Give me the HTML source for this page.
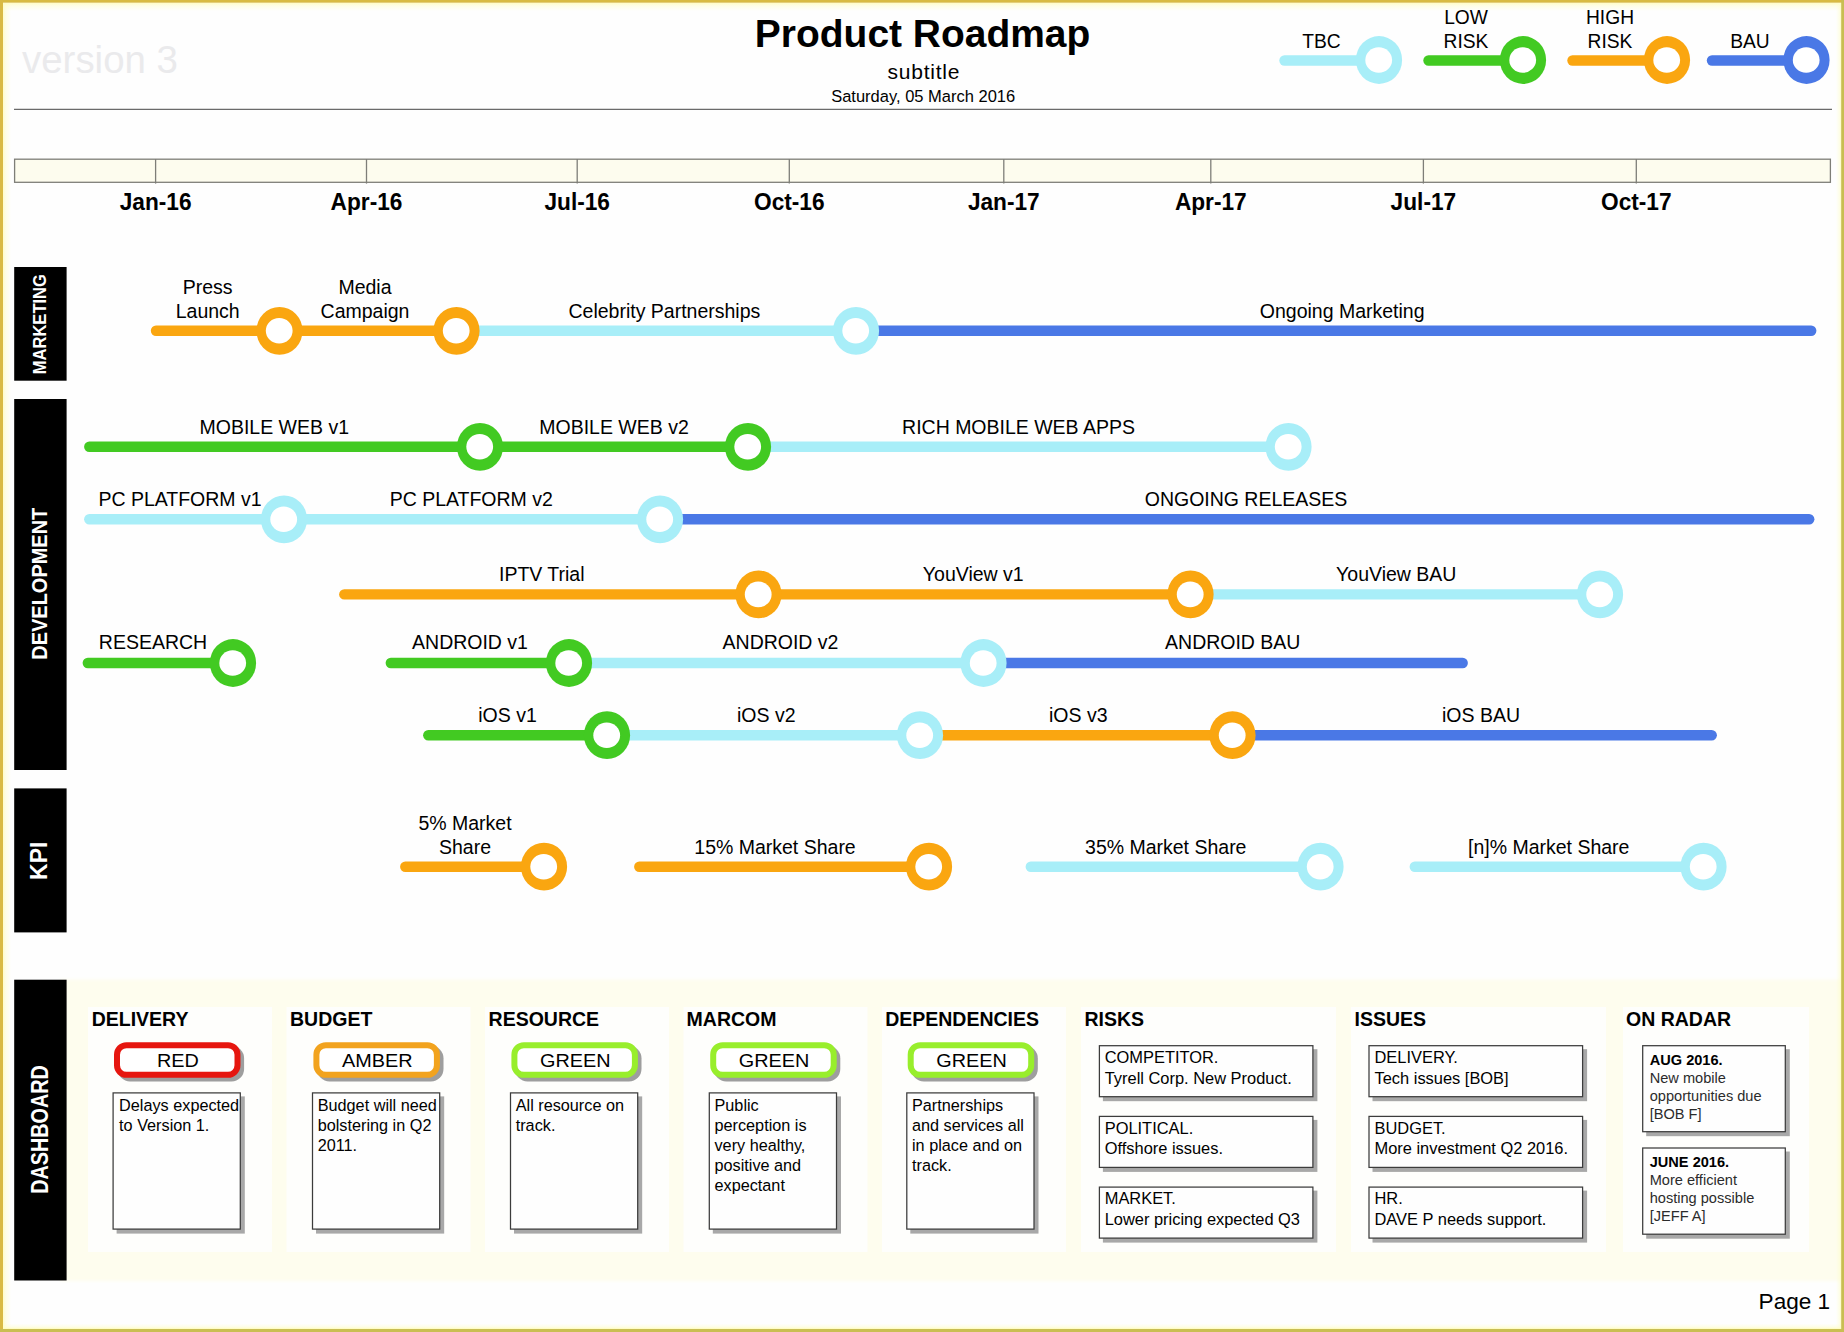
<!DOCTYPE html>
<html lang="en">
<head>
<meta charset="utf-8">
<title>Product Roadmap</title>
<style>
html,body{margin:0;padding:0;background:#fff;}
body{width:1844px;height:1332px;overflow:hidden;}
svg{display:block;font-family:"Liberation Sans",Arial,Helvetica,sans-serif;}

</style>
</head>
<body>
<svg width="1844" height="1332" viewBox="0 0 1844 1332">
<defs>
<linearGradient id="gt" x1="0" y1="0" x2="0" y2="1"><stop offset="0" stop-color="#FFFDC8"/><stop offset="0.35" stop-color="#FFFDC8" stop-opacity="0.45"/><stop offset="1" stop-color="#FFFDC8" stop-opacity="0"/></linearGradient>
<linearGradient id="gl" x1="0" y1="0" x2="1" y2="0"><stop offset="0" stop-color="#FFFDC8"/><stop offset="0.35" stop-color="#FFFDC8" stop-opacity="0.45"/><stop offset="1" stop-color="#FFFDC8" stop-opacity="0"/></linearGradient>
<filter id="sh" x="-10%" y="-10%" width="130%" height="140%"><feGaussianBlur stdDeviation="0.7"/></filter>
<filter id="soft" x="-2%" y="-5%" width="104%" height="110%"><feGaussianBlur stdDeviation="1.6"/></filter>
<linearGradient id="gr" x1="1" y1="0" x2="0" y2="0"><stop offset="0" stop-color="#FFFCB8"/><stop offset="0.35" stop-color="#FFFDC8" stop-opacity="0.45"/><stop offset="1" stop-color="#FFFDC8" stop-opacity="0"/></linearGradient>
<linearGradient id="gb" x1="0" y1="1" x2="0" y2="0"><stop offset="0" stop-color="#FFFCB8"/><stop offset="0.35" stop-color="#FFFDC8" stop-opacity="0.45"/><stop offset="1" stop-color="#FFFDC8" stop-opacity="0"/></linearGradient>
</defs>
<rect x="0" y="0" width="1844" height="1332" fill="#FEFEFE"/>

<rect x="60" y="979.5" width="1786" height="301.5" fill="#FEFDEE" filter="url(#soft)"/>
<rect x="88" y="1007" width="184" height="245" fill="#FEFEFC"/>
<rect x="286.5" y="1007" width="184.0" height="245" fill="#FEFEFC"/>
<rect x="485" y="1007" width="184" height="245" fill="#FEFEFC"/>
<rect x="683.5" y="1007" width="184.0" height="245" fill="#FEFEFC"/>
<rect x="882" y="1007" width="184" height="245" fill="#FEFEFC"/>
<rect x="1081" y="1007" width="255" height="245" fill="#FEFEFC"/>
<rect x="1351" y="1007" width="255" height="245" fill="#FEFEFC"/>
<rect x="1623" y="1007" width="186" height="245" fill="#FEFEFC"/>
<rect x="3" y="3" width="1838" height="8" fill="url(#gt)"/>
<rect x="3" y="3" width="8" height="1326" fill="url(#gl)"/>
<rect x="1836" y="3" width="5.5" height="1326" fill="url(#gr)"/>
<rect x="3" y="1323.5" width="1838" height="5.5" fill="url(#gb)"/>
<rect x="0" y="0" width="1844" height="2.7" fill="#D8BA42"/>
<rect x="0" y="0" width="3" height="1332" fill="#D9BA44"/>
<rect x="1841.2" y="0" width="2.8" height="1332" fill="#C8BE52"/>
<rect x="0" y="1329" width="1844" height="3" fill="#C9BE52"/>
<text x="22" y="72.5" font-size="38" fill="#EAEAEC" textLength="156" lengthAdjust="spacingAndGlyphs">version 3</text>
<text x="922.6" y="47.4" font-size="38.5" text-anchor="middle" font-weight="bold" textLength="335.5" lengthAdjust="spacingAndGlyphs">Product Roadmap</text>
<text x="923.5" y="79.3" font-size="21" text-anchor="middle" textLength="71.8" lengthAdjust="spacing">subtitle</text>
<text x="923.2" y="101.8" font-size="16.3" text-anchor="middle" textLength="184" lengthAdjust="spacingAndGlyphs">Saturday, 05 March 2016</text>
<line x1="14" y1="109.4" x2="1832" y2="109.4" stroke="#6A6A6A" stroke-width="1.3"/>
<line x1="1284.5" y1="60.5" x2="1379" y2="60.5" stroke="#A8EEF8" stroke-width="10.4" stroke-linecap="round"/>
<ellipse cx="1379" cy="60.0" rx="23.1" ry="23.9" fill="#A8EEF8"/><ellipse cx="1378.7" cy="60.0" rx="13.4" ry="12.8" fill="#fff"/>
<line x1="1428.5" y1="60.5" x2="1523" y2="60.5" stroke="#42CA22" stroke-width="10.4" stroke-linecap="round"/>
<ellipse cx="1523" cy="60.0" rx="23.1" ry="23.9" fill="#42CA22"/><ellipse cx="1522.7" cy="60.0" rx="13.4" ry="12.8" fill="#fff"/>
<line x1="1572.5" y1="60.5" x2="1667" y2="60.5" stroke="#FAA610" stroke-width="10.4" stroke-linecap="round"/>
<ellipse cx="1667" cy="60.0" rx="23.1" ry="23.9" fill="#FAA610"/><ellipse cx="1666.7" cy="60.0" rx="13.4" ry="12.8" fill="#fff"/>
<line x1="1712" y1="60.5" x2="1806.5" y2="60.5" stroke="#4A78E6" stroke-width="10.4" stroke-linecap="round"/>
<ellipse cx="1806.5" cy="60.0" rx="23.1" ry="23.9" fill="#4A78E6"/><ellipse cx="1806.2" cy="60.0" rx="13.4" ry="12.8" fill="#fff"/>
<text transform="translate(1321.5 47.5) scale(0.965 1)" font-size="19.9" text-anchor="middle">TBC</text>
<text transform="translate(1466 23.5) scale(0.965 1)" font-size="19.9" text-anchor="middle">LOW</text>
<text transform="translate(1466 47.5) scale(0.965 1)" font-size="19.9" text-anchor="middle">RISK</text>
<text transform="translate(1610 23.5) scale(0.965 1)" font-size="19.9" text-anchor="middle">HIGH</text>
<text transform="translate(1610 47.5) scale(0.965 1)" font-size="19.9" text-anchor="middle">RISK</text>
<text transform="translate(1750 47.5) scale(0.965 1)" font-size="19.9" text-anchor="middle">BAU</text>
<rect x="14.6" y="159.2" width="1815.8" height="23.1" fill="#FDFCEE" stroke="#7E7E78" stroke-width="1.3"/>
<line x1="155.6" y1="159" x2="155.6" y2="183.6" stroke="#7E7E78" stroke-width="1.3"/>
<text transform="translate(155.6 210) scale(0.93 1)" font-size="24.4" text-anchor="middle" font-weight="bold">Jan-16</text>
<line x1="366.5" y1="159" x2="366.5" y2="183.6" stroke="#7E7E78" stroke-width="1.3"/>
<text transform="translate(366.5 210) scale(0.93 1)" font-size="24.4" text-anchor="middle" font-weight="bold">Apr-16</text>
<line x1="577.2" y1="159" x2="577.2" y2="183.6" stroke="#7E7E78" stroke-width="1.3"/>
<text transform="translate(577.2 210) scale(0.93 1)" font-size="24.4" text-anchor="middle" font-weight="bold">Jul-16</text>
<line x1="789.3" y1="159" x2="789.3" y2="183.6" stroke="#7E7E78" stroke-width="1.3"/>
<text transform="translate(789.3 210) scale(0.93 1)" font-size="24.4" text-anchor="middle" font-weight="bold">Oct-16</text>
<line x1="1003.8" y1="159" x2="1003.8" y2="183.6" stroke="#7E7E78" stroke-width="1.3"/>
<text transform="translate(1003.8 210) scale(0.93 1)" font-size="24.4" text-anchor="middle" font-weight="bold">Jan-17</text>
<line x1="1210.8" y1="159" x2="1210.8" y2="183.6" stroke="#7E7E78" stroke-width="1.3"/>
<text transform="translate(1210.8 210) scale(0.93 1)" font-size="24.4" text-anchor="middle" font-weight="bold">Apr-17</text>
<line x1="1423.4" y1="159" x2="1423.4" y2="183.6" stroke="#7E7E78" stroke-width="1.3"/>
<text transform="translate(1423.4 210) scale(0.93 1)" font-size="24.4" text-anchor="middle" font-weight="bold">Jul-17</text>
<line x1="1636.3" y1="159" x2="1636.3" y2="183.6" stroke="#7E7E78" stroke-width="1.3"/>
<text transform="translate(1636.3 210) scale(0.93 1)" font-size="24.4" text-anchor="middle" font-weight="bold">Oct-17</text>
<rect x="14.2" y="267" width="52.4" height="113.69999999999999" fill="#000"/>
<text transform="translate(46.3 324.2) rotate(-90)" font-size="18.6" font-weight="bold" text-anchor="middle" textLength="100.3" lengthAdjust="spacingAndGlyphs" fill="#fff">MARKETING</text>
<rect x="14.2" y="399" width="52.4" height="371" fill="#000"/>
<text transform="translate(47.0 583.7) rotate(-90)" font-size="22" font-weight="bold" text-anchor="middle" textLength="152" lengthAdjust="spacingAndGlyphs" fill="#fff">DEVELOPMENT</text>
<rect x="14.2" y="788.4" width="52.4" height="144.0" fill="#000"/>
<text transform="translate(47.4 860.8) rotate(-90)" font-size="23" font-weight="bold" text-anchor="middle" textLength="38.2" lengthAdjust="spacingAndGlyphs" fill="#fff">KPI</text>
<rect x="14.2" y="979.7" width="52.4" height="300.79999999999995" fill="#000"/>
<text transform="translate(47.5 1129.5) rotate(-90)" font-size="23" font-weight="bold" text-anchor="middle" textLength="128.6" lengthAdjust="spacingAndGlyphs" fill="#fff">DASHBOARD</text>
<line x1="156" y1="330.8" x2="279.5" y2="330.8" stroke="#FAA610" stroke-width="10.4" stroke-linecap="round"/>
<line x1="279.5" y1="330.8" x2="456.5" y2="330.8" stroke="#FAA610" stroke-width="10.4" stroke-linecap="round"/>
<line x1="456.5" y1="330.8" x2="856" y2="330.8" stroke="#A8EEF8" stroke-width="10.4" stroke-linecap="round"/>
<line x1="856" y1="330.8" x2="1811.2" y2="330.8" stroke="#4A78E6" stroke-width="10.4" stroke-linecap="round"/>
<ellipse cx="279.5" cy="330.8" rx="23.1" ry="23.9" fill="#FAA610"/><ellipse cx="279.2" cy="330.8" rx="13.4" ry="12.8" fill="#fff"/>
<ellipse cx="456.5" cy="330.8" rx="23.1" ry="23.9" fill="#FAA610"/><ellipse cx="456.2" cy="330.8" rx="13.4" ry="12.8" fill="#fff"/>
<ellipse cx="856" cy="330.8" rx="23.1" ry="23.9" fill="#A8EEF8"/><ellipse cx="855.7" cy="330.8" rx="13.4" ry="12.8" fill="#fff"/>
<line x1="89.3" y1="446.8" x2="480" y2="446.8" stroke="#42CA22" stroke-width="10.4" stroke-linecap="round"/>
<line x1="480" y1="446.8" x2="748" y2="446.8" stroke="#42CA22" stroke-width="10.4" stroke-linecap="round"/>
<line x1="748" y1="446.8" x2="1288.5" y2="446.8" stroke="#A8EEF8" stroke-width="10.4" stroke-linecap="round"/>
<ellipse cx="480" cy="446.8" rx="23.1" ry="23.9" fill="#42CA22"/><ellipse cx="479.7" cy="446.8" rx="13.4" ry="12.8" fill="#fff"/>
<ellipse cx="748" cy="446.8" rx="23.1" ry="23.9" fill="#42CA22"/><ellipse cx="747.7" cy="446.8" rx="13.4" ry="12.8" fill="#fff"/>
<ellipse cx="1288.5" cy="446.8" rx="23.1" ry="23.9" fill="#A8EEF8"/><ellipse cx="1288.2" cy="446.8" rx="13.4" ry="12.8" fill="#fff"/>
<line x1="89.3" y1="519.3" x2="284" y2="519.3" stroke="#A8EEF8" stroke-width="10.4" stroke-linecap="round"/>
<line x1="284" y1="519.3" x2="660" y2="519.3" stroke="#A8EEF8" stroke-width="10.4" stroke-linecap="round"/>
<line x1="660" y1="519.3" x2="1809.2" y2="519.3" stroke="#4A78E6" stroke-width="10.4" stroke-linecap="round"/>
<ellipse cx="284" cy="519.3" rx="23.1" ry="23.9" fill="#A8EEF8"/><ellipse cx="283.7" cy="519.3" rx="13.4" ry="12.8" fill="#fff"/>
<ellipse cx="660" cy="519.3" rx="23.1" ry="23.9" fill="#A8EEF8"/><ellipse cx="659.7" cy="519.3" rx="13.4" ry="12.8" fill="#fff"/>
<line x1="344.3" y1="594.4" x2="758.5" y2="594.4" stroke="#FAA610" stroke-width="10.4" stroke-linecap="round"/>
<line x1="758.5" y1="594.4" x2="1190.5" y2="594.4" stroke="#FAA610" stroke-width="10.4" stroke-linecap="round"/>
<line x1="1190.5" y1="594.4" x2="1600" y2="594.4" stroke="#A8EEF8" stroke-width="10.4" stroke-linecap="round"/>
<ellipse cx="758.5" cy="594.4" rx="23.1" ry="23.9" fill="#FAA610"/><ellipse cx="758.2" cy="594.4" rx="13.4" ry="12.8" fill="#fff"/>
<ellipse cx="1190.5" cy="594.4" rx="23.1" ry="23.9" fill="#FAA610"/><ellipse cx="1190.2" cy="594.4" rx="13.4" ry="12.8" fill="#fff"/>
<ellipse cx="1600" cy="594.4" rx="23.1" ry="23.9" fill="#A8EEF8"/><ellipse cx="1599.7" cy="594.4" rx="13.4" ry="12.8" fill="#fff"/>
<line x1="87.8" y1="663.0" x2="233" y2="663.0" stroke="#42CA22" stroke-width="10.4" stroke-linecap="round"/>
<line x1="390.8" y1="663.0" x2="569" y2="663.0" stroke="#42CA22" stroke-width="10.4" stroke-linecap="round"/>
<line x1="569" y1="663.0" x2="983.5" y2="663.0" stroke="#A8EEF8" stroke-width="10.4" stroke-linecap="round"/>
<line x1="983.5" y1="663.0" x2="1462.7" y2="663.0" stroke="#4A78E6" stroke-width="10.4" stroke-linecap="round"/>
<ellipse cx="233" cy="663.0" rx="23.1" ry="23.9" fill="#42CA22"/><ellipse cx="232.7" cy="663.0" rx="13.4" ry="12.8" fill="#fff"/>
<ellipse cx="569" cy="663.0" rx="23.1" ry="23.9" fill="#42CA22"/><ellipse cx="568.7" cy="663.0" rx="13.4" ry="12.8" fill="#fff"/>
<ellipse cx="983.5" cy="663.0" rx="23.1" ry="23.9" fill="#A8EEF8"/><ellipse cx="983.2" cy="663.0" rx="13.4" ry="12.8" fill="#fff"/>
<line x1="428.3" y1="735.2" x2="607" y2="735.2" stroke="#42CA22" stroke-width="10.4" stroke-linecap="round"/>
<line x1="607" y1="735.2" x2="920" y2="735.2" stroke="#A8EEF8" stroke-width="10.4" stroke-linecap="round"/>
<line x1="920" y1="735.2" x2="1232.5" y2="735.2" stroke="#FAA610" stroke-width="10.4" stroke-linecap="round"/>
<line x1="1232.5" y1="735.2" x2="1711.7" y2="735.2" stroke="#4A78E6" stroke-width="10.4" stroke-linecap="round"/>
<ellipse cx="607" cy="735.2" rx="23.1" ry="23.9" fill="#42CA22"/><ellipse cx="606.7" cy="735.2" rx="13.4" ry="12.8" fill="#fff"/>
<ellipse cx="920" cy="735.2" rx="23.1" ry="23.9" fill="#A8EEF8"/><ellipse cx="919.7" cy="735.2" rx="13.4" ry="12.8" fill="#fff"/>
<ellipse cx="1232.5" cy="735.2" rx="23.1" ry="23.9" fill="#FAA610"/><ellipse cx="1232.2" cy="735.2" rx="13.4" ry="12.8" fill="#fff"/>
<line x1="405.3" y1="866.7" x2="544" y2="866.7" stroke="#FAA610" stroke-width="10.4" stroke-linecap="round"/>
<line x1="639.3" y1="866.7" x2="929" y2="866.7" stroke="#FAA610" stroke-width="10.4" stroke-linecap="round"/>
<line x1="1030.8" y1="866.7" x2="1320.5" y2="866.7" stroke="#A8EEF8" stroke-width="10.4" stroke-linecap="round"/>
<line x1="1414.8" y1="866.7" x2="1703.5" y2="866.7" stroke="#A8EEF8" stroke-width="10.4" stroke-linecap="round"/>
<ellipse cx="544" cy="866.7" rx="23.1" ry="23.9" fill="#FAA610"/><ellipse cx="543.7" cy="866.7" rx="13.4" ry="12.8" fill="#fff"/>
<ellipse cx="929" cy="866.7" rx="23.1" ry="23.9" fill="#FAA610"/><ellipse cx="928.7" cy="866.7" rx="13.4" ry="12.8" fill="#fff"/>
<ellipse cx="1320.5" cy="866.7" rx="23.1" ry="23.9" fill="#A8EEF8"/><ellipse cx="1320.2" cy="866.7" rx="13.4" ry="12.8" fill="#fff"/>
<ellipse cx="1703.5" cy="866.7" rx="23.1" ry="23.9" fill="#A8EEF8"/><ellipse cx="1703.2" cy="866.7" rx="13.4" ry="12.8" fill="#fff"/>
<text transform="translate(207.7 293.5) scale(0.98 1)" font-size="19.9" text-anchor="middle">Press</text>
<text transform="translate(207.7 317.5) scale(0.98 1)" font-size="19.9" text-anchor="middle">Launch</text>
<text transform="translate(365 293.5) scale(0.98 1)" font-size="19.9" text-anchor="middle">Media</text>
<text transform="translate(365 317.5) scale(0.98 1)" font-size="19.9" text-anchor="middle">Campaign</text>
<text transform="translate(664.4 317.5) scale(0.98 1)" font-size="19.9" text-anchor="middle">Celebrity Partnerships</text>
<text transform="translate(1342.2 317.5) scale(0.98 1)" font-size="19.9" text-anchor="middle">Ongoing Marketing</text>
<text transform="translate(274.25 433.5) scale(0.98 1)" font-size="19.9" text-anchor="middle">MOBILE WEB v1</text>
<text transform="translate(614 433.5) scale(0.98 1)" font-size="19.9" text-anchor="middle">MOBILE WEB v2</text>
<text transform="translate(1018.5 433.5) scale(0.98 1)" font-size="19.9" text-anchor="middle">RICH MOBILE WEB APPS</text>
<text transform="translate(180 505.7) scale(0.98 1)" font-size="19.9" text-anchor="middle">PC PLATFORM v1</text>
<text transform="translate(471.25 505.7) scale(0.98 1)" font-size="19.9" text-anchor="middle">PC PLATFORM v2</text>
<text transform="translate(1246 505.7) scale(0.98 1)" font-size="19.9" text-anchor="middle">ONGOING RELEASES</text>
<text transform="translate(541.75 580.6) scale(0.98 1)" font-size="19.9" text-anchor="middle">IPTV Trial</text>
<text transform="translate(973.25 580.6) scale(0.98 1)" font-size="19.9" text-anchor="middle">YouView v1</text>
<text transform="translate(1396.25 580.6) scale(0.98 1)" font-size="19.9" text-anchor="middle">YouView BAU</text>
<text transform="translate(153 649.4) scale(0.98 1)" font-size="19.9" text-anchor="middle">RESEARCH</text>
<text transform="translate(470 649.4) scale(0.98 1)" font-size="19.9" text-anchor="middle">ANDROID v1</text>
<text transform="translate(780.5 649.4) scale(0.98 1)" font-size="19.9" text-anchor="middle">ANDROID v2</text>
<text transform="translate(1232.75 649.4) scale(0.98 1)" font-size="19.9" text-anchor="middle">ANDROID BAU</text>
<text transform="translate(507.5 721.5) scale(0.98 1)" font-size="19.9" text-anchor="middle">iOS v1</text>
<text transform="translate(766.25 721.5) scale(0.98 1)" font-size="19.9" text-anchor="middle">iOS v2</text>
<text transform="translate(1078.25 721.5) scale(0.98 1)" font-size="19.9" text-anchor="middle">iOS v3</text>
<text transform="translate(1481 721.5) scale(0.98 1)" font-size="19.9" text-anchor="middle">iOS BAU</text>
<text transform="translate(465 829.9) scale(0.98 1)" font-size="19.9" text-anchor="middle">5% Market</text>
<text transform="translate(465 853.9) scale(0.98 1)" font-size="19.9" text-anchor="middle">Share</text>
<text transform="translate(775 853.9) scale(0.98 1)" font-size="19.9" text-anchor="middle">15% Market Share</text>
<text transform="translate(1165.75 853.9) scale(0.98 1)" font-size="19.9" text-anchor="middle">35% Market Share</text>
<text transform="translate(1548.75 853.9) scale(0.98 1)" font-size="19.9" text-anchor="middle">[n]% Market Share</text>
<text x="91.7" y="1026.4" font-size="19.5" font-weight="bold">DELIVERY</text>
<text x="290" y="1026.4" font-size="19.5" font-weight="bold">BUDGET</text>
<text x="488.6" y="1026.4" font-size="19.5" font-weight="bold">RESOURCE</text>
<text x="686.6" y="1026.4" font-size="19.5" font-weight="bold">MARCOM</text>
<text x="885.2" y="1026.4" font-size="19.5" font-weight="bold">DEPENDENCIES</text>
<text x="1084.4" y="1026.4" font-size="19.5" font-weight="bold">RISKS</text>
<text x="1354.5" y="1026.4" font-size="19.5" font-weight="bold">ISSUES</text>
<text x="1626" y="1026.4" font-size="19.5" font-weight="bold">ON RADAR</text>
<rect x="117.6" y="1045.8" width="126.5" height="35.6" rx="12.5" fill="#9E9E9E" filter="url(#sh)"/>
<rect x="117.0" y="1045.2" width="120.5" height="29.6" rx="9.5" fill="#fff" stroke="#E6160F" stroke-width="6"/>
<text transform="translate(177.85 1066.5) scale(1.035 1)" font-size="19.2" text-anchor="middle">RED</text>
<rect x="116.6" y="1096.4" width="128.2" height="137.2" fill="#A8A8A8" filter="url(#sh)"/>
<rect x="113.1" y="1092.9" width="127.19999999999999" height="136.2" fill="#FEFEFE" stroke="#3C3C3C" stroke-width="1.25"/>
<text transform="translate(119.1 1111.0) scale(0.967 1)" font-size="16.8">Delays expected</text>
<text transform="translate(119.1 1131.05) scale(0.967 1)" font-size="16.8">to Version 1.</text>
<rect x="317.0" y="1045.8" width="126.5" height="35.6" rx="12.5" fill="#9E9E9E" filter="url(#sh)"/>
<rect x="316.4" y="1045.2" width="120.5" height="29.6" rx="9.5" fill="#fff" stroke="#F2A31E" stroke-width="6"/>
<text transform="translate(377.25 1066.5) scale(1.035 1)" font-size="19.2" text-anchor="middle">AMBER</text>
<rect x="316.0" y="1096.4" width="128.2" height="137.2" fill="#A8A8A8" filter="url(#sh)"/>
<rect x="312.5" y="1092.9" width="127.19999999999999" height="136.2" fill="#FEFEFE" stroke="#3C3C3C" stroke-width="1.25"/>
<text transform="translate(317.7 1111.0) scale(0.967 1)" font-size="16.8">Budget will need</text>
<text transform="translate(317.7 1131.05) scale(0.967 1)" font-size="16.8">bolstering in Q2</text>
<text transform="translate(317.7 1151.1) scale(0.967 1)" font-size="16.8">2011.</text>
<rect x="515.0" y="1045.8" width="126.5" height="35.6" rx="12.5" fill="#9E9E9E" filter="url(#sh)"/>
<rect x="514.4" y="1045.2" width="120.5" height="29.6" rx="9.5" fill="#fff" stroke="#98EE2C" stroke-width="6"/>
<text transform="translate(575.25 1066.5) scale(1.035 1)" font-size="19.2" text-anchor="middle">GREEN</text>
<rect x="514.0" y="1096.4" width="128.2" height="137.2" fill="#A8A8A8" filter="url(#sh)"/>
<rect x="510.5" y="1092.9" width="127.19999999999999" height="136.2" fill="#FEFEFE" stroke="#3C3C3C" stroke-width="1.25"/>
<text transform="translate(515.7 1111.0) scale(0.967 1)" font-size="16.8">All resource on</text>
<text transform="translate(515.7 1131.05) scale(0.967 1)" font-size="16.8">track.</text>
<rect x="713.8" y="1045.8" width="126.5" height="35.6" rx="12.5" fill="#9E9E9E" filter="url(#sh)"/>
<rect x="713.1999999999999" y="1045.2" width="120.5" height="29.6" rx="9.5" fill="#fff" stroke="#98EE2C" stroke-width="6"/>
<text transform="translate(774.05 1066.5) scale(1.035 1)" font-size="19.2" text-anchor="middle">GREEN</text>
<rect x="712.8" y="1096.4" width="128.2" height="137.2" fill="#A8A8A8" filter="url(#sh)"/>
<rect x="709.3" y="1092.9" width="127.19999999999999" height="136.2" fill="#FEFEFE" stroke="#3C3C3C" stroke-width="1.25"/>
<text transform="translate(714.5 1111.0) scale(0.967 1)" font-size="16.8">Public</text>
<text transform="translate(714.5 1131.05) scale(0.967 1)" font-size="16.8">perception is</text>
<text transform="translate(714.5 1151.1) scale(0.967 1)" font-size="16.8">very healthy,</text>
<text transform="translate(714.5 1171.15) scale(0.967 1)" font-size="16.8">positive and</text>
<text transform="translate(714.5 1191.2) scale(0.967 1)" font-size="16.8">expectant</text>
<rect x="911.3" y="1045.8" width="126.5" height="35.6" rx="12.5" fill="#9E9E9E" filter="url(#sh)"/>
<rect x="910.6999999999999" y="1045.2" width="120.5" height="29.6" rx="9.5" fill="#fff" stroke="#98EE2C" stroke-width="6"/>
<text transform="translate(971.55 1066.5) scale(1.035 1)" font-size="19.2" text-anchor="middle">GREEN</text>
<rect x="910.3" y="1096.4" width="128.2" height="137.2" fill="#A8A8A8" filter="url(#sh)"/>
<rect x="906.8" y="1092.9" width="127.19999999999999" height="136.2" fill="#FEFEFE" stroke="#3C3C3C" stroke-width="1.25"/>
<text transform="translate(912.0 1111.0) scale(0.967 1)" font-size="16.8">Partnerships</text>
<text transform="translate(912.0 1131.05) scale(0.967 1)" font-size="16.8">and services all</text>
<text transform="translate(912.0 1151.1) scale(0.967 1)" font-size="16.8">in place and on</text>
<text transform="translate(912.0 1171.15) scale(0.967 1)" font-size="16.8">track.</text>
<rect x="1102.9" y="1049.2" width="214.5" height="52" fill="#A8A8A8" filter="url(#sh)"/>
<rect x="1099.4" y="1045.7" width="213.5" height="51" fill="#FEFEFE" stroke="#3C3C3C" stroke-width="1.25"/>
<text transform="translate(1104.7 1062.9) scale(1.027 1)" font-size="16.0">COMPETITOR.</text>
<text transform="translate(1104.7 1083.5) scale(1.027 1)" font-size="16.0">Tyrell Corp. New Product.</text>
<rect x="1372.5" y="1049.2" width="214.6" height="52" fill="#A8A8A8" filter="url(#sh)"/>
<rect x="1369.0" y="1045.7" width="213.6" height="51" fill="#FEFEFE" stroke="#3C3C3C" stroke-width="1.25"/>
<text transform="translate(1374.5 1062.9) scale(1.027 1)" font-size="16.0">DELIVERY.</text>
<text transform="translate(1374.5 1083.5) scale(1.027 1)" font-size="16.0">Tech issues [BOB]</text>
<rect x="1102.9" y="1119.9" width="214.5" height="52" fill="#A8A8A8" filter="url(#sh)"/>
<rect x="1099.4" y="1116.4" width="213.5" height="51" fill="#FEFEFE" stroke="#3C3C3C" stroke-width="1.25"/>
<text transform="translate(1104.7 1133.6) scale(1.027 1)" font-size="16.0">POLITICAL.</text>
<text transform="translate(1104.7 1154.2) scale(1.027 1)" font-size="16.0">Offshore issues.</text>
<rect x="1372.5" y="1119.9" width="214.6" height="52" fill="#A8A8A8" filter="url(#sh)"/>
<rect x="1369.0" y="1116.4" width="213.6" height="51" fill="#FEFEFE" stroke="#3C3C3C" stroke-width="1.25"/>
<text transform="translate(1374.5 1133.6) scale(1.027 1)" font-size="16.0">BUDGET.</text>
<text transform="translate(1374.5 1154.2) scale(1.027 1)" font-size="16.0">More investment Q2 2016.</text>
<rect x="1102.9" y="1190.6000000000001" width="214.5" height="52" fill="#A8A8A8" filter="url(#sh)"/>
<rect x="1099.4" y="1187.1000000000001" width="213.5" height="51" fill="#FEFEFE" stroke="#3C3C3C" stroke-width="1.25"/>
<text transform="translate(1104.7 1204.3) scale(1.027 1)" font-size="16.0">MARKET.</text>
<text transform="translate(1104.7 1224.9) scale(1.027 1)" font-size="16.0">Lower pricing expected Q3</text>
<rect x="1372.5" y="1190.6000000000001" width="214.6" height="52" fill="#A8A8A8" filter="url(#sh)"/>
<rect x="1369.0" y="1187.1000000000001" width="213.6" height="51" fill="#FEFEFE" stroke="#3C3C3C" stroke-width="1.25"/>
<text transform="translate(1374.5 1204.3) scale(1.027 1)" font-size="16.0">HR.</text>
<text transform="translate(1374.5 1224.9) scale(1.027 1)" font-size="16.0">DAVE P needs support.</text>
<rect x="1646.2" y="1049.2" width="143.6" height="87" fill="#A8A8A8" filter="url(#sh)"/>
<rect x="1642.7" y="1045.7" width="142.6" height="86" fill="#FEFEFE" stroke="#3C3C3C" stroke-width="1.25"/>
<text transform="translate(1649.7 1064.7) scale(0.973 1)" font-size="15" font-weight="bold" fill="#000">AUG 2016.</text>
<text transform="translate(1649.7 1082.7) scale(0.973 1)" font-size="15" fill="#2B2B2B">New mobile</text>
<text transform="translate(1649.7 1100.7) scale(0.973 1)" font-size="15" fill="#2B2B2B">opportunities due</text>
<text transform="translate(1649.7 1118.7) scale(0.973 1)" font-size="15" fill="#2B2B2B">[BOB F]</text>
<rect x="1646.2" y="1151.5" width="143.6" height="87.2" fill="#A8A8A8" filter="url(#sh)"/>
<rect x="1642.7" y="1148.0" width="142.6" height="86.2" fill="#FEFEFE" stroke="#3C3C3C" stroke-width="1.25"/>
<text transform="translate(1649.7 1167.0) scale(0.973 1)" font-size="15" font-weight="bold" fill="#000">JUNE 2016.</text>
<text transform="translate(1649.7 1185.0) scale(0.973 1)" font-size="15" fill="#2B2B2B">More efficient</text>
<text transform="translate(1649.7 1203.0) scale(0.973 1)" font-size="15" fill="#2B2B2B">hosting possible</text>
<text transform="translate(1649.7 1221.0) scale(0.973 1)" font-size="15" fill="#2B2B2B">[JEFF A]</text>
<text x="1830.2" y="1309.4" font-size="22.6" text-anchor="end">Page 1</text>
</svg>
</body>
</html>
